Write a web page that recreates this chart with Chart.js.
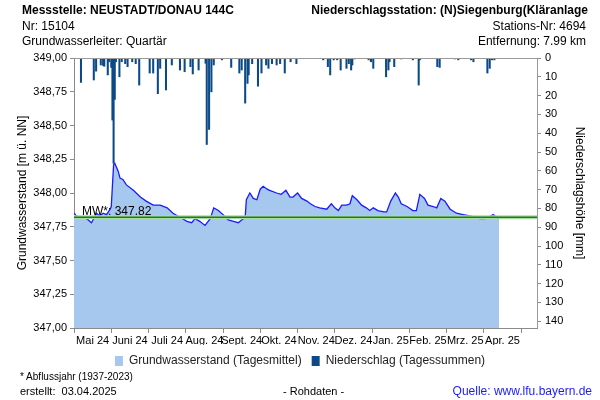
<!DOCTYPE html>
<html><head><meta charset="utf-8">
<script src="https://cdn.jsdelivr.net/npm/chart.js@4/dist/chart.umd.min.js"></script>
<style>
body{margin:0;background:#fff;font-family:"Liberation Sans",Arial,sans-serif;}
#wrap{position:relative;width:600px;height:400px;overflow:hidden;}
canvas{position:absolute;left:0;top:0;}
.t{position:absolute;font-size:12px;color:#000;white-space:nowrap;line-height:14px;}
</style></head><body>
<div id="wrap">
<canvas id="c" width="600" height="400"></canvas>
<div class="t" style="left:22px;top:3px;font-weight:bold">Messstelle: NEUSTADT/DONAU 144C</div>
<div class="t" style="left:22px;top:19px">Nr: 15104</div>
<div class="t" style="left:22px;top:34px">Grundwasserleiter: Quartär</div>
<div class="t" style="right:12px;top:3px;font-weight:bold">Niederschlagsstation: (N)Siegenburg(Kläranlage</div>
<div class="t" style="right:14px;top:19px">Stations-Nr: 4694</div>
<div class="t" style="right:14px;top:34px">Entfernung: 7.99 km</div>
<div class="t" style="left:20px;top:371px;font-size:10px;line-height:12px">* Abflussjahr (1937-2023)</div>
<div class="t" style="left:20px;top:384px;font-size:11px">erstellt:&nbsp; 03.04.2025</div>
<div class="t" style="left:283px;top:384px;font-size:11px">- Rohdaten -</div>
<div class="t" style="right:8px;top:384px;font-size:12px;color:#1a1aff">Quelle: www.lfu.bayern.de</div>
</div>
<script>
// ---- data (x = day index from axis start) ----
const gwDay = [0,2,5,11,15,19.5,22,25,28,31,32,34,35,38,39.5,42,45,51,57,62,68,74,80,85,91,97,101,104,108,112.5,117,120,124,128,132.5,137,141,144,147,148,151,154,157,160,162.5,165.5,168,174,178,182,185.5,188,192,195.5,200,203,207,211,217,221,224,227,230,234,237,239,243,247,251,254,257,261,266,268.5,272,276,278.5,281,286,291,294,297,301,304,308.5,311.5,315,318.5,323,328.5,334,340,346,348.5,353,356,360,363,365];
const gwLevel = [347.85,347.83,347.82,347.81,347.78,347.85,347.83,347.85,347.84,347.88,347.90,348.21,348.22,348.16,348.11,348.10,348.06,348.02,347.97,347.94,347.91,347.91,347.89,347.85,347.82,347.79,347.78,347.81,347.79,347.76,347.81,347.89,347.87,347.84,347.80,347.79,347.78,347.80,347.82,347.95,348.00,347.96,347.95,348.03,348.05,348.03,348.02,348.00,347.99,348.02,347.97,347.97,348.00,347.96,347.94,347.92,347.90,347.89,347.88,347.92,347.89,347.87,347.91,347.91,347.92,347.98,347.95,347.91,347.89,347.87,347.89,347.87,347.86,347.86,347.94,348.00,347.97,347.92,347.90,347.87,347.87,347.99,347.96,347.91,347.90,347.89,347.96,347.94,347.88,347.85,347.84,347.83,347.82,347.81,347.81,347.82,347.84,347.82,347.81];
const rainDay = [6,17,19,23,25,26,29,30,32,33,34,35,36,39,41,44,46,50,53,56,65,68,72,74,79,84,91,95,100,102,107,113,114,116,118,120,127,135,142,144,147,149,150,153,158,161,165,167,170,174,177,181,186,191,214,218,220,223,226,229,234,236,238,239,241,253,255,257,268,270,271,275,281,291,296,297,312,314,327,330,341,343,355,357,359,361];
const rainMm = [13,11.7,7,3.7,4,4.4,9,2,5,33,56,22,2,10,2,3,4.6,2,3,14.4,8,8,19,5.5,17,3.7,6.4,7.3,4.6,8.5,6.4,2.8,46,38,18,3.7,1,5,8,6.4,24,13.5,9,3,15,8,3.7,5.5,3,3.7,3,8,2,3,1,4.6,9,1,1,6.4,5.5,3,6.4,3.7,0.5,1,2,5.5,10,6.4,2,4.6,0.5,1,14.4,1,4.6,5,0.5,1,1,2,8,5.5,1,1];
const meanLevel = 347.82;
const monthLabels = ['Mai 24','Juni 24','Juli 24','Aug. 24','Sept. 24','Okt. 24','Nov. 24','Dez. 24','Jan. 25','Feb. 25','Mrz. 25','Apr. 25'];
const monthTickDays = [0,32,64,96,128,160,192,224,256,288,320,352,384];
const xMax = 397.6;
const levelTicksMin = 347, levelTicksMax = 349;
const rainAxisMax = 143.6;

const FONT = '"Liberation Sans", Arial, sans-serif';

const borderPlugin = {
  id: 'areaBorder',
  afterDraw(chart) {
    const {ctx, chartArea: a} = chart;
    ctx.save();
    ctx.strokeStyle = '#9a9a9a';
    ctx.lineWidth = 1;
    ctx.beginPath();
    ctx.moveTo(a.left, a.top + 0.5); ctx.lineTo(a.right + 0.5, a.top + 0.5); ctx.lineTo(a.right + 0.5, a.bottom);
    ctx.stroke();
    ctx.restore();
  }
};
const mwPlugin = {
  id: 'mwLabel',
  afterDatasetsDraw(chart) {
    const {ctx, scales: {y}, chartArea} = chart;
    const py = y.getPixelForValue(meanLevel);
    ctx.save();
    ctx.font = '12px ' + FONT;
    ctx.fillStyle = '#000';
    ctx.textBaseline = 'bottom';
    ctx.fillText('MW*: ' + meanLevel.toFixed(2), chartArea.left + 8, py);
    ctx.restore();
  }
};

new Chart(document.getElementById('c'), {
  type: 'bar',
  data: {
    datasets: [
      {
        type: 'line', label: 'Grundwasserstand (Tagesmittel)',
        data: gwDay.map((d, i) => ({x: d, y: gwLevel[i]})),
        xAxisID: 'x', yAxisID: 'y',
        borderColor: '#1a1aff', borderWidth: 1.3, backgroundColor: '#a6c8ee',
        fill: 'start', pointRadius: 0, tension: 0, order: 2
      },
      {
        type: 'bar', label: 'Niederschlag (Tagessummen)',
        data: rainDay.map((d, i) => ({x: d, y: rainMm[i]})),
        xAxisID: 'x', yAxisID: 'y2',
        backgroundColor: '#0b4a86', barThickness: 1.4, order: 3
      },
      {
        type: 'line', label: 'mwglow',
        data: [{x: 0, y: meanLevel}, {x: xMax, y: meanLevel}],
        xAxisID: 'x', yAxisID: 'y',
        borderColor: '#a8dca0', borderWidth: 4, pointRadius: 0, fill: false, order: 1
      },
      {
        type: 'line', label: 'mw',
        data: [{x: 0, y: meanLevel}, {x: xMax, y: meanLevel}],
        xAxisID: 'x', yAxisID: 'y',
        borderColor: '#1f7a1f', borderWidth: 1.5, pointRadius: 0, fill: false, order: 0
      }
    ]
  },
  options: {
    responsive: false, animation: false,
    layout: {padding: {top: 58, bottom: 23, left: 0, right: 0}},
    plugins: {
      legend: {
        position: 'bottom',
        labels: {
          font: {family: FONT, size: 12}, color: '#222', boxWidth: 8, boxHeight: 10, padding: 10,
          filter: item => item.datasetIndex < 2,
          generateLabels(chart) {
            const items = Chart.defaults.plugins.legend.labels.generateLabels(chart);
            items.forEach(it => { it.lineWidth = 0; it.strokeStyle = 'rgba(0,0,0,0)'; });
            return items;
          }
        }
      },
      tooltip: {enabled: false}
    },
    scales: {
      x: {
        type: 'linear', position: 'bottom', min: 0, max: xMax, offset: false, weight: 1,
        afterBuildTicks: s => { s.ticks = monthTickDays.map(v => ({value: v})); },
        ticks: {display: false},
        grid: {drawOnChartArea: false, drawTicks: true, tickLength: 5, color: '#8a8a8a', offset: false},
        border: {color: '#8a8a8a'},
        afterFit: s => { s.height = 6; }
      },
      x2: {
        type: 'linear', position: 'bottom', min: 0, max: xMax, offset: false, weight: 2,
        afterBuildTicks: s => { s.ticks = monthLabels.map((l, i) => ({value: monthTickDays[i] + 16})); },
        ticks: {callback: (v, i) => monthLabels[i], autoSkip: false, maxRotation: 0, padding: 0,
                font: {family: FONT, size: 11}, color: '#000'},
        grid: {display: false, drawTicks: false, tickLength: 0}, border: {display: false},
        afterFit: s => { s.height = 11; }
      },
      y: {
        type: 'linear', position: 'left', min: levelTicksMin, max: levelTicksMax,
        ticks: {stepSize: 0.25, padding: 3, font: {family: FONT, size: 11}, color: '#000',
                callback: v => v.toFixed(2).replace('.', ',')},
        grid: {drawOnChartArea: false, tickLength: 4, color: '#8a8a8a'},
        border: {color: '#8a8a8a'},
        title: {display: true, text: 'Grundwasserstand [m ü. NN]', font: {family: FONT, size: 12}, color: '#000',
                padding: {top: 15, bottom: 0}},
        afterFit: s => { s.width = 74; }
      },
      y2: {
        type: 'linear', position: 'right', reverse: true, min: 0, max: rainAxisMax,
        ticks: {stepSize: 10, includeBounds: false, padding: 4, font: {family: FONT, size: 11}, color: '#000'},
        grid: {drawOnChartArea: false, tickLength: 4, color: '#8a8a8a'},
        border: {color: '#8a8a8a'},
        title: {display: true, text: 'Niederschlagshöhe [mm]', font: {family: FONT, size: 12}, color: '#000',
                padding: {top: 13, bottom: 0}},
        afterFit: s => { s.width = 63; }
      }
    }
  },
  plugins: [borderPlugin, mwPlugin]
});
</script>
</body></html>
